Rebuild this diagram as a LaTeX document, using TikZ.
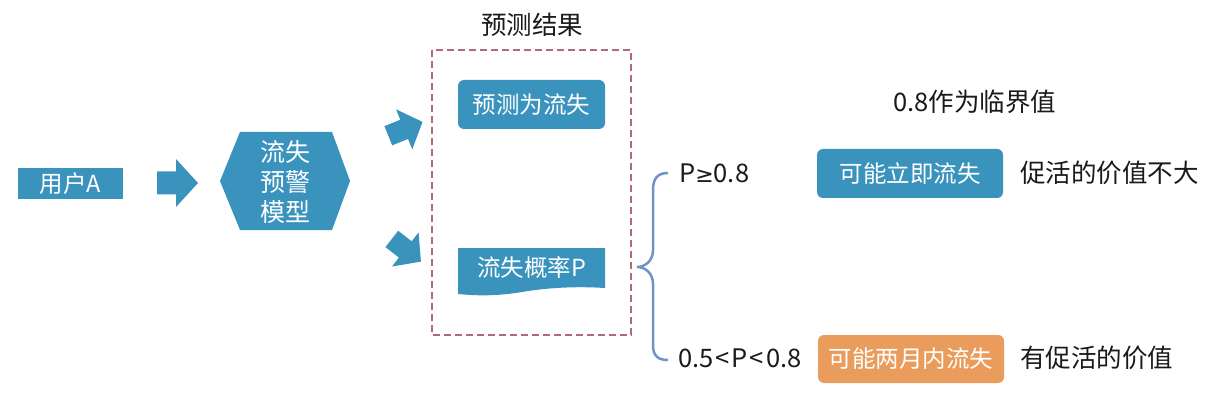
\documentclass[tikz,border=0pt]{standalone}
\usepackage{fontspec}
\setmainfont{Noto Sans CJK SC}
\newfontfamily\symfont{DejaVu Sans}
\definecolor{mblue}{HTML}{3A93BD}
\definecolor{morange}{HTML}{EA9C5C}
\definecolor{dashcol}{HTML}{B06A78}
\definecolor{bracecol}{HTML}{6F93C9}
\definecolor{ink}{HTML}{1A1A1A}
\tikzset{
  bluebox/.style={fill=mblue, text=white, font=\fontsize{23.5}{28}\selectfont, inner sep=0pt},
  orangebox/.style={fill=morange, text=white, font=\fontsize{23.5}{28}\selectfont, inner sep=0pt},
  plain/.style={text=ink, font=\fontsize{25.5}{30}\selectfont, inner sep=0pt},
  dashbox/.style={draw=dashcol, line width=1.4pt, dash pattern=on 7pt off 4pt},
  blockarrow/.pic={\fill[mblue] (-20,-11.5) -- (-1,-11.5) -- (-1,-24) -- (21,0) -- (-1,24) -- (-1,11.5) -- (-20,11.5) -- cycle;}
}
\begin{document}
\begin{tikzpicture}[x=1pt,y=-1pt]
\useasboundingbox[fill=white] (0,0) rectangle (1228,406);

% user
\node[bluebox, minimum width=105pt, minimum height=31pt] (user) at (70.5,183.5) {用户A};

% arrow 1
\pic at (177,183) {blockarrow};

% hexagon model
\fill[mblue] (220,181) -- (240,132) -- (332,132) -- (350,181) -- (332,230) -- (240,230) -- cycle;
\node[text=white, align=center, font=\fontsize{25}{30}\selectfont, inner sep=0pt] (model) at (285,182) {流失\\预警\\模型};

% tilted arrows
\pic[rotate=22, scale=0.9] at (405,129) {blockarrow};
\pic[rotate=-38, scale=0.9] at (406,250) {blockarrow};

% result group
\node[plain] (title) at (532,25) {预测结果};
\draw[dashbox] (432,50) rectangle (631,335);
\node[bluebox, rounded corners=6pt, minimum width=147pt, minimum height=49pt] (churn) at (531.5,104.5) {预测为流失};
\fill[mblue] (458,248) -- (605,248) -- (605,288) .. controls (575,286) and (545,288) .. (522,292) .. controls (498,296) and (478,296) .. (458,294) -- cycle;
\node[text=white, font=\fontsize{23.5}{28}\selectfont, inner sep=0pt] (prob) at (531.5,268) {流失概率P};

% brace
\draw[bracecol, line width=2.5pt] (668,173) .. controls (658,173) and (653,178) .. (653,190) -- (653,250) .. controls (653,261) and (645,267) .. (637,267) .. controls (645,267) and (653,273) .. (653,284) -- (653,345) .. controls (653,356) and (658,360) .. (668,360);

% conditions
\node[plain, anchor=west] (hi) at (679,173) {P{\symfont\fontsize{22}{26}\selectfont ≥}0.8};
\node[plain, anchor=west] (mid) at (678,358) {0.5{\kern2pt}<{\kern2pt}P{\kern2pt}<{\kern2pt}0.8};

\node[plain, anchor=west] (crit) at (893,102) {0.8作为临界值};

\node[bluebox, rounded corners=6pt, minimum width=186pt, minimum height=49pt] (now) at (910,173.5) {可能立即流失};
\node[plain, anchor=west] (nowtxt) at (1020,173) {促活的价值不大};

\node[orangebox, rounded corners=6pt, minimum width=186pt, minimum height=48pt] (two) at (911,359) {可能两月内流失};
\node[plain, anchor=west] (twotxt) at (1020,358) {有促活的价值};
\end{tikzpicture}
\end{document}
